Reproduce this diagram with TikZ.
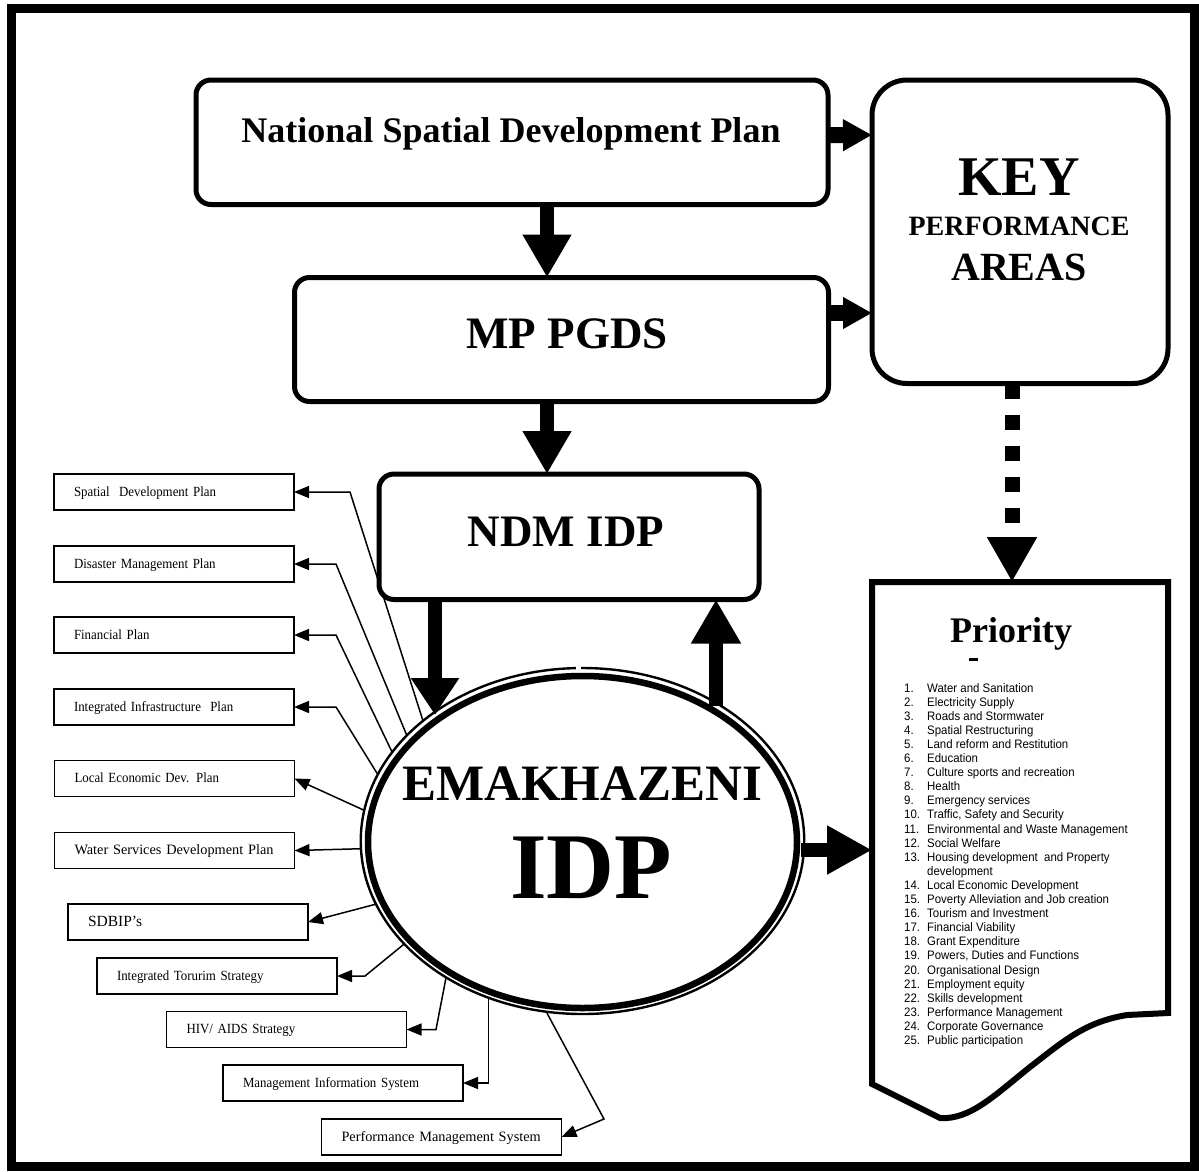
\documentclass[tikz,border=0pt]{standalone}
\usepackage{fontspec}
\setmainfont{Liberation Serif}
\newfontfamily\listfont[FakeStretch=0.93]{Liberation Sans}
\newfontfamily\boxfont[FakeStretch=0.92]{Liberation Serif}
\usetikzlibrary{arrows.meta,shapes.geometric}
\begin{document}
\begin{tikzpicture}[x=1pt,y=-1pt,
  rbox/.style={draw, line width=5pt, rounded corners=15pt, inner sep=0pt, outer sep=0pt},
  pbox/.style={draw, line width=1.6pt, minimum width=240pt, minimum height=36pt,
    inner xsep=20pt, inner ysep=0pt, text width=200pt, align=left,
    text height=10pt, text depth=2pt, outer sep=0pt, font=\boxfont\fontsize{14}{15}\selectfont},
  conn/.style={line width=1.5pt, line join=miter, -{Triangle[length=15pt,width=12pt]}},
  bigarrow/.style={line width=14pt, -{Triangle[length=43pt,width=46pt]}},
  sidearrow/.style={line width=16pt, -{Triangle[length=29pt,width=30pt]}},
  dotarrow/.style={line width=15pt, dash pattern=on 15pt off 16pt, -{Triangle[length=45pt,width=47pt]}},
  title/.style={anchor=base, inner sep=0pt, font=\bfseries}
]
\useasboundingbox (0,0) rectangle (1199,1171);
% outer frame
\draw[line width=9pt] (11,8.7) rectangle (1194.5,1166.8);

% main boxes
\node[rbox, minimum width=632pt, minimum height=124.5pt] (nsdp) at (512,142.25) {};
\node[title, font=\bfseries\fontsize{36}{40}\selectfont] (nsdpt) at (511,142) {National Spatial Development Plan};
\node[rbox, minimum width=534pt, minimum height=124pt] (mp) at (561.5,339.5) {};
\node[title, font=\bfseries\fontsize{45}{50}\selectfont] (mpt) at (567,348) {MP PGDS};
\node[rbox, minimum width=380pt, minimum height=125.5pt] (ndm) at (569,536.75) {};
\node[title, font=\bfseries\fontsize{45}{50}\selectfont] (ndmt) at (566,546) {NDM IDP};
\node[rbox, rounded corners=35pt, minimum width=296pt, minimum height=303.5pt] (kpa) at (1020,231.75) {};
\node[title, font=\bfseries\fontsize{56}{60}\selectfont] (kpa1) at (1019,195) {KEY};
\node[title, font=\bfseries\fontsize{28}{32}\selectfont] (kpa2) at (1019,235) {PERFORMANCE};
\node[title, font=\bfseries\fontsize{40}{44}\selectfont] (kpa3) at (1019,280) {AREAS};

% priority document
\node[inner sep=0pt, outer sep=0pt, minimum width=296pt, minimum height=431pt] (pri) at (1020,797.5) {};
\draw[line width=6pt, line join=miter] (pri.north west) -- (pri.north east) -- (pri.south east)
  -- (1127,1015) .. controls (1085,1022) and (1065,1040) .. (1030,1067)
  .. controls (995,1095) and (970,1120) .. (940,1118) -- (872,1084) -- cycle;
\node[title, font=\bfseries\fontsize{36}{40}\selectfont] (prit) at (1011,642) {Priority};
\fill (969,658) rectangle (978,661);
\node[anchor=north west, inner sep=0pt, font=\listfont\fontsize{12.3}{14.1}\selectfont] (plist) at (904,682) {%
\begin{tabular}{@{}p{23pt}@{}l@{}}
1. & Water and Sanitation\\
2. & Electricity Supply\\
3. & Roads and Stormwater\\
4. & Spatial Restructuring\\
5. & Land reform and Restitution\\
6. & Education\\
7. & Culture sports and recreation\\
8. & Health\\
9. & Emergency services\\
10. & Traffic, Safety and Security\\
11. & Environmental and Waste Management\\
12. & Social Welfare\\
13. & Housing development~~and Property\\
 & development\\
14. & Local Economic Development\\
15. & Poverty Alleviation and Job creation\\
16. & Tourism and Investment\\
17. & Financial Viability\\
18. & Grant Expenditure\\
19. & Powers, Duties and Functions\\
20. & Organisational Design\\
21. & Employment equity\\
22. & Skills development\\
23. & Performance Management\\
24. & Corporate Governance\\
25. & Public participation
\end{tabular}};

% ellipse
\node[draw, ellipse, line width=2.4pt, minimum width=443.5pt, minimum height=346pt, inner sep=0pt, outer sep=0pt] (ellO) at (582.5,841) {};
\node[draw, ellipse, line width=6.5pt, minimum width=429pt, minimum height=332pt, inner sep=0pt, outer sep=0pt] (ellI) at (582.5,842) {};
\fill[white] (576,664) rectangle (580.5,671.5);
\node[title, font=\bfseries\fontsize{51}{55}\selectfont] (emk) at (582,800) {EMAKHAZENI};
\node[title, font=\bfseries\fontsize{94}{100}\selectfont] (idp) at (591,898) {IDP};

% left boxes
\node[pbox] (sdp) at (174,492) {Spatial~~Development Plan};
\node[pbox] (dmp) at (174,564) {Disaster Management Plan};
\node[pbox] (fp) at (174,635) {Financial Plan};
\node[pbox] (iip) at (174,707) {Integrated Infrastructure~~Plan};
\node[pbox] (led) at (174.5,778.5) {Local Economic Dev. Plan};
\node[pbox, font=\fontsize{14.3}{16}\selectfont] (wsdp) at (174.5,850.5) {Water Services Development Plan};
\node[pbox, font=\fontsize{15.5}{17}\selectfont] (sdbip) at (188,922) {SDBIP’s};
\node[pbox] (tour) at (217,976) {Integrated Torurim Strategy};
\node[pbox] (hiv) at (286.5,1029.5) {HIV/ AIDS Strategy};
\node[pbox] (mis) at (343,1083) {Management Information System};
\node[pbox, font=\fontsize{14.3}{16}\selectfont] (pms) at (441.5,1137) {Performance Management System};

% connectors to left boxes
\draw[conn] (ellO.143.3) -- (350,492) -- (sdp.east);
\draw[conn] (ellO.149.9) -- (336,564) -- (dmp.east);
\draw[conn] (ellO.155.7) -- (336,635) -- (fp.east);
\draw[conn] (ellO.162.2) -- (336,707) -- (iip.east);
\draw[conn] (ellO.172.8) -- (led.east);
\draw[conn] (ellO.182.6) -- (wsdp.east);
\draw[conn] (ellO.197.1) -- (sdbip.east);
\draw[conn] (ellO.210) -- (365,976) -- (tour.east);
\draw[conn] (ellO.225.5) -- (436,1029.5) -- (hiv.east);
\draw[conn] (ellO.239.9) |- (mis.east);
\draw[conn] (ellO.258.6) -- (604,1119) -- (pms.east);

% thick arrows
\draw[bigarrow] ([xshift=35pt]nsdp.south) -- ([xshift=-14.5pt]mp.north);
\draw[bigarrow] ([xshift=-14.5pt]mp.south) -- ([xshift=-22pt]ndm.north);
\draw[sidearrow] ([yshift=7pt]nsdp.east) -- ([yshift=96.75pt]kpa.west);
\draw[sidearrow] ([yshift=26.5pt]mp.east) -- ([yshift=-81.25pt]kpa.west);
\draw[dotarrow] ([xshift=-8pt]kpa.south) -- ([xshift=-8pt]pri.north);
\coordinate (tipA) at (435,715);
\coordinate (tailB) at (716,706);
\coordinate (tailC) at (801,850);
\draw[line width=14pt, -{Triangle[length=37pt,width=46pt]}] (tipA |- ndm.south) -- (tipA);
\draw[line width=14pt, -{Triangle[length=44pt,width=47pt]}] (tailB) -- (tailB |- ndm.south);
\draw[line width=14pt, -{Triangle[length=45pt,width=46pt]}] (tailC) -- (tailC -| pri.west);
\end{tikzpicture}
\end{document}
